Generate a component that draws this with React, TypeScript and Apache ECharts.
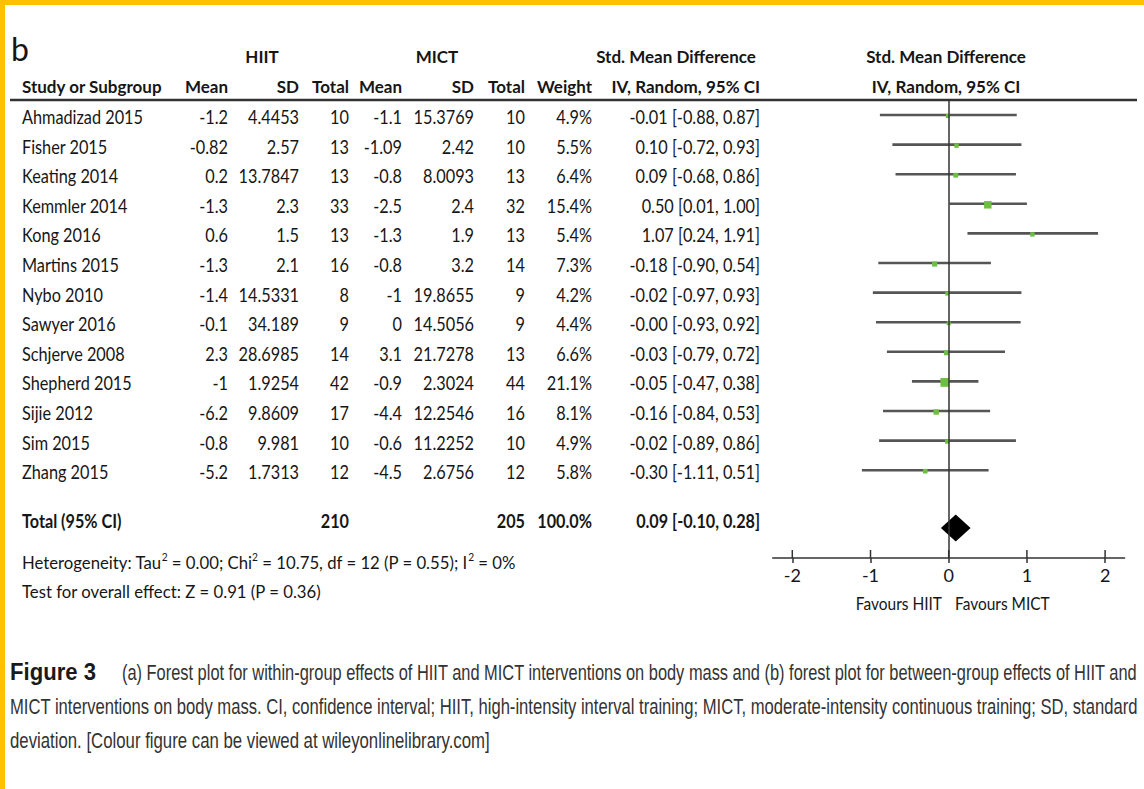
import React, { useEffect, useRef } from "react";
import * as echarts from "echarts";

// ---------- DATA ----------
const studies = [
  "Ahmadizad 2015", "Fisher 2015", "Keating 2014", "Kemmler 2014", "Kong 2016",
  "Martins 2015", "Nybo 2010", "Sawyer 2016", "Schjerve 2008", "Shepherd 2015",
  "Sijie 2012", "Sim 2015", "Zhang 2015",
];
const hiitMean = ["-1.2", "-0.82", "0.2", "-1.3", "0.6", "-1.3", "-1.4", "-0.1", "2.3", "-1", "-6.2", "-0.8", "-5.2"];
const hiitSD = ["4.4453", "2.57", "13.7847", "2.3", "1.5", "2.1", "14.5331", "34.189", "28.6985", "1.9254", "9.8609", "9.981", "1.7313"];
const hiitN = [10, 13, 13, 33, 13, 16, 8, 9, 14, 42, 17, 10, 12];
const mictMean = ["-1.1", "-1.09", "-0.8", "-2.5", "-1.3", "-0.8", "-1", "0", "3.1", "-0.9", "-4.4", "-0.6", "-4.5"];
const mictSD = ["15.3769", "2.42", "8.0093", "2.4", "1.9", "3.2", "19.8655", "14.5056", "21.7278", "2.3024", "12.2546", "11.2252", "2.6756"];
const mictN = [10, 10, 13, 32, 13, 14, 9, 9, 13, 44, 16, 10, 12];
const weights = [4.9, 5.5, 6.4, 15.4, 5.4, 7.3, 4.2, 4.4, 6.6, 21.1, 8.1, 4.9, 5.8];
const smd = [-0.01, 0.1, 0.09, 0.5, 1.07, -0.18, -0.02, -0.0, -0.03, -0.05, -0.16, -0.02, -0.3];
const ciLow = [-0.88, -0.72, -0.68, 0.01, 0.24, -0.9, -0.97, -0.93, -0.79, -0.47, -0.84, -0.89, -1.11];
const ciHigh = [0.87, 0.93, 0.86, 1.0, 1.91, 0.54, 0.93, 0.92, 0.72, 0.38, 0.53, 0.86, 0.51];

const totalN = [210, 205];
const totalWeight = "100.0%";
const totalEffect = [0.09, -0.1, 0.28]; // estimate, low, high
const heterogeneity = "Heterogeneity: Tau{sup|2} = 0.00; Chi{sup|2} = 10.75, df = 12 (P = 0.55); I{sup|2} = 0%";
const overallTest = "Test for overall effect: Z = 0.91 (P = 0.36)";
const xTicks = [-2, -1, 0, 1, 2];

const captionBold = "Figure 3";
const captionLines = [
  "(a) Forest plot for within-group effects of HIIT and MICT interventions on body mass and (b) forest plot for between-group effects of HIIT and",
  "MICT interventions on body mass. CI, confidence interval; HIIT, high-intensity interval training; MICT, moderate-intensity continuous training; SD, standard",
  "deviation. [Colour figure can be viewed at wileyonlinelibrary.com]",
];

// ---------- LAYOUT / STYLE ----------
const FONT = "Lato";
const FS = 18.5;
const SX = 0.88;
const TXT = "#161616";
const GREEN = "#6dbf43";
const TOTAL_ROW = 13.72;
const DIAMOND_ROW = 13.95;
const COLS = {
  study: 22, hMean: 228, hSD: 299, hN: 349, mMean: 402, mSD: 474, mN: 525, weight: 592, ci: 760,
};

function fmt(v: number) {
  const neg = v < 0 || Object.is(v, -0);
  return (neg ? "-" : "") + Math.abs(v).toFixed(2);
}
function ciText(e: number, l: number, h: number) {
  return `${fmt(e)} [${fmt(l)}, ${fmt(h)}]`;
}

function txt(text: string, x: number, y: number, align: string, bold = false, size = FS, sx = SX) {
  return {
    type: "text",
    x,
    y,
    scaleX: sx,
    style: {
      text,
      fill: TXT,
      fontFamily: FONT,
      fontSize: size,
      fontWeight: bold ? "bold" : "normal",
      align,
      verticalAlign: "middle",
    },
  };
}

export default function App() {
  const ref = useRef<HTMLDivElement>(null);

  useEffect(() => {
    if (!ref.current) return;
    const chart = echarts.init(ref.current, null, { renderer: "svg" });

    const canvas = document.createElement("canvas");
    const ctx = canvas.getContext("2d")!;
    const fit = (text: string, font: string, target: number) => {
      ctx.font = font;
      const w = ctx.measureText(text).width;
      return w > 0 ? target / w : 1;
    };
    const CAP_FS = 22;
    const capFont = `${CAP_FS}px "Liberation Sans"`;
    const capBoldFont = `bold 23px "Liberation Sans"`;
    const capTargets = [1138 - 122, 1138 - 10, 490 - 10];
    const capStarts = [122, 10, 10];
    const capYs = [672, 706, 740];

    const graphics: any[] = [
      // gold frame
      { type: "rect", shape: { x: 0, y: 0, width: 1144, height: 5 }, style: { fill: "#ffc000" } },
      { type: "rect", shape: { x: 0, y: 0, width: 5, height: 789 }, style: { fill: "#ffc000" } },
      // panel letter
      txt("b", 11, 48, "left", false, 32, 1),
      // header row 1
      txt("HIIT", 262, 56, "center", true, 17, 1),
      txt("MICT", 437, 56, "center", true, 17, 1),
      txt("Std. Mean Difference", 676, 56, "center", true, 17, 1),
      txt("Std. Mean Difference", 946, 56, "center", true, 17, 1),
      // header row 2
      txt("Study or Subgroup", COLS.study, 86, "left", true, 17, 1),
      txt("Mean", COLS.hMean, 86, "right", true, 17, 1),
      txt("SD", COLS.hSD, 86, "right", true, 17, 1),
      txt("Total", COLS.hN, 86, "right", true, 17, 1),
      txt("Mean", COLS.mMean, 86, "right", true, 17, 1),
      txt("SD", COLS.mSD, 86, "right", true, 17, 1),
      txt("Total", COLS.mN, 86, "right", true, 17, 1),
      txt("Weight", COLS.weight, 86, "right", true, 17, 1),
      txt("IV, Random, 95% CI", COLS.ci, 86, "right", true, 17, 1),
      txt("IV, Random, 95% CI", 946, 86, "center", true, 17, 1),
      // header rule
      {
        type: "line",
        shape: { x1: 10, y1: 100, x2: 1137, y2: 100 },
        style: { stroke: "#333", lineWidth: 2.5 },
      },
      // footer texts
      {
        type: "text",
        x: COLS.study,
        y: 562,
        scaleX: 0.93,
        style: {
          text: heterogeneity,
          fill: TXT,
          fontFamily: FONT,
          fontSize: 18,
          lineHeight: 22,
          verticalAlign: "middle",
          rich: { sup: { fontSize: 11, lineHeight: 12, verticalAlign: "top", fontFamily: FONT, fill: TXT } },
        },
      },
      txt(overallTest, COLS.study, 591, "left", false, 18, 0.93),
      txt("Favours HIIT", 942, 603, "right", false, 18, 0.86),
      txt("Favours MICT", 955, 603, "left", false, 18, 0.86),
      // caption
      {
        type: "text",
        x: 10,
        y: capYs[0],
        scaleX: fit(captionBold, capBoldFont, 86),
        style: {
          text: captionBold,
          fill: "#1a1a1a",
          fontFamily: "Liberation Sans",
          fontSize: 23,
          fontWeight: "bold",
          verticalAlign: "middle",
        },
      },
      ...captionLines.map((line, i) => ({
        type: "text",
        x: capStarts[i],
        y: capYs[i],
        scaleX: fit(line, capFont, capTargets[i]),
        style: {
          text: line,
          fill: "#333",
          fontFamily: "Liberation Sans",
          fontSize: CAP_FS,
          verticalAlign: "middle",
        },
      })),
    ];

    const option: any = {
      animation: false,
      backgroundColor: "#ffffff",
      grid: {
        left: 772.75,
        right: 19.35,
        top: 100,
        bottom: 231,
        containLabel: false,
        outerBoundsMode: "none",
      },
      xAxis: {
        type: "value",
        min: -2.25,
        max: 2.25,
        splitLine: { show: false },
        axisLine: { show: true, onZero: false, lineStyle: { color: "#333", width: 1.5 } },
        axisTick: { show: true, length: 5, customValues: xTicks, lineStyle: { color: "#333", width: 1.5 } },
        axisLabel: {
          customValues: xTicks,
          color: TXT,
          fontFamily: FONT,
          fontSize: 18,
          margin: 8,
          showMinLabel: true,
          showMaxLabel: true,
        },
      },
      yAxis: {
        type: "value",
        inverse: true,
        min: -0.507,
        max: 14.966,
        show: false,
        splitLine: { show: false },
      },
      graphic: graphics,
      series: [
        // table rows
        {
          type: "custom",
          silent: true,
          data: studies.map((_, i) => [0, i]),
          renderItem: (params: any, api: any) => {
            const i = params.dataIndex;
            const y = api.coord([0, api.value(1)])[1] + 2;
            return {
              type: "group",
              children: [
                txt(studies[i], COLS.study, y, "left"),
                txt(hiitMean[i], COLS.hMean, y, "right"),
                txt(hiitSD[i], COLS.hSD, y, "right"),
                txt(String(hiitN[i]), COLS.hN, y, "right"),
                txt(mictMean[i], COLS.mMean, y, "right"),
                txt(mictSD[i], COLS.mSD, y, "right"),
                txt(String(mictN[i]), COLS.mN, y, "right"),
                txt(weights[i].toFixed(1) + "%", COLS.weight, y, "right"),
                txt(ciText(smd[i], ciLow[i], ciHigh[i]), COLS.ci, y, "right"),
              ],
            };
          },
        },
        // total row text
        {
          type: "custom",
          silent: true,
          data: [[0, TOTAL_ROW]],
          renderItem: (params: any, api: any) => {
            const y = api.coord([0, api.value(1)])[1];
            return {
              type: "group",
              children: [
                txt("Total (95% CI)", COLS.study, y, "left", true, 18, 0.9),
                txt(String(totalN[0]), COLS.hN, y, "right", true, 18, 0.9),
                txt(String(totalN[1]), COLS.mN, y, "right", true, 18, 0.9),
                txt(totalWeight, COLS.weight, y, "right", true, 18, 0.9),
                txt(ciText(totalEffect[0], totalEffect[1], totalEffect[2]), COLS.ci, y, "right", true, 18, 0.9),
              ],
            };
          },
        },
        // CI lines + weight boxes
        {
          type: "custom",
          silent: true,
          data: studies.map((_, i) => [ciLow[i], ciHigh[i], smd[i], weights[i], i]),
          renderItem: (params: any, api: any) => {
            const row = api.value(4);
            const p1 = api.coord([api.value(0), row]);
            const p2 = api.coord([api.value(1), row]);
            const pc = api.coord([api.value(2), row]);
            const s = 1.9 * Math.sqrt(api.value(3));
            return {
              type: "group",
              children: [
                {
                  type: "line",
                  shape: { x1: p1[0], y1: p1[1], x2: p2[0], y2: p2[1] },
                  style: { stroke: "#555", lineWidth: 2.6 },
                },
                {
                  type: "rect",
                  shape: { x: pc[0] - s / 2, y: pc[1] - s / 2 + 1, width: s, height: s },
                  style: { fill: GREEN },
                },
              ],
            };
          },
          markLine: {
            silent: true,
            symbol: "none",
            label: { show: false },
            lineStyle: { color: "#333", width: 1.5, type: "solid" },
            data: [{ xAxis: 0 }],
          },
        },
        // pooled diamond
        {
          type: "custom",
          silent: true,
          data: [[totalEffect[1], totalEffect[0], totalEffect[2], DIAMOND_ROW]],
          renderItem: (params: any, api: any) => {
            const row = api.value(3);
            const l = api.coord([api.value(0), row]);
            const c = api.coord([api.value(1), row]);
            const r = api.coord([api.value(2), row]);
            const h = 13.5;
            return {
              type: "polygon",
              shape: { points: [[l[0], l[1]], [c[0], c[1] - h], [r[0], r[1]], [c[0], c[1] + h]] },
              style: { fill: "#000" },
            };
          },
        },
        // upward half of axis ticks
        {
          type: "custom",
          silent: true,
          data: xTicks.map((v) => [v]),
          renderItem: (params: any, api: any) => {
            const p = api.coord([api.value(0), 14.966]);
            return {
              type: "line",
              shape: { x1: p[0], y1: p[1] - 8, x2: p[0], y2: p[1] },
              style: { stroke: "#333", lineWidth: 1.5 },
            };
          },
        },
      ],
    };

    chart.setOption(option);
    return () => chart.dispose();
  }, []);

  return (
    <div
      ref={ref}
      style={{ position: "fixed", left: 0, top: 0, width: 1144, height: 789, background: "#fff" }}
    />
  );
}
